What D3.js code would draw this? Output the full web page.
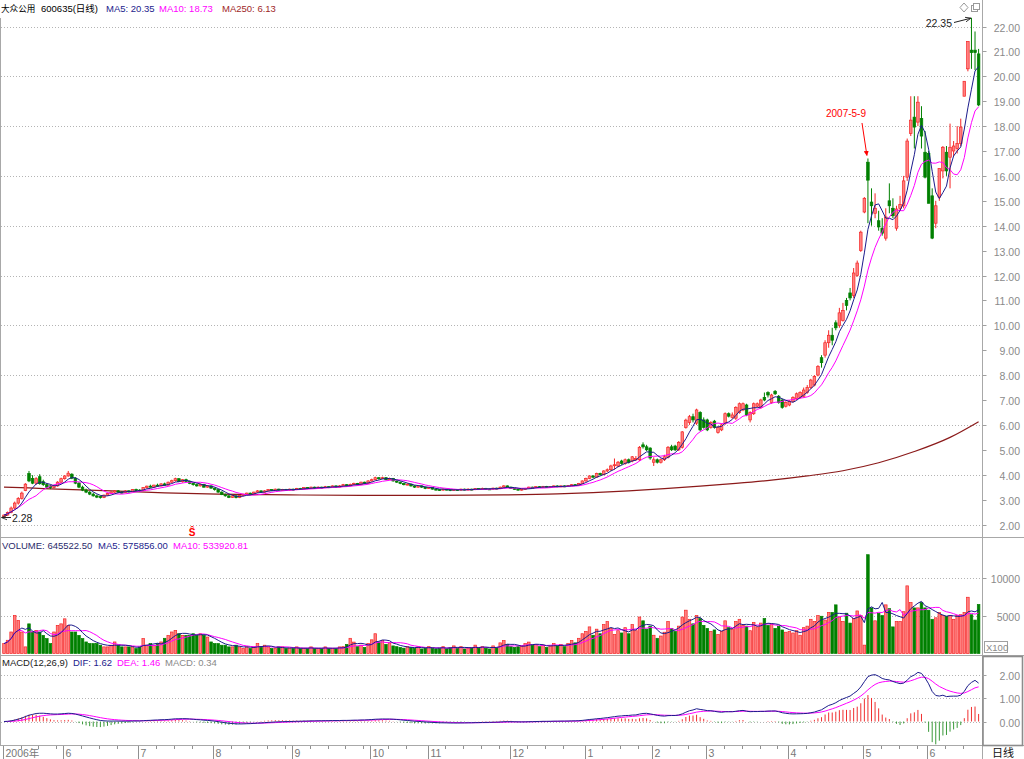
<!DOCTYPE html>
<html>
<head>
<meta charset="utf-8">
<script src="https://cdn.jsdelivr.net/npm/d3@7"></script>
<style>
  body { margin: 0; background: #fff; }
  svg { display: block; }
  text { font-family: Arial, "Liberation Sans", "Noto Sans CJK SC", sans-serif; }
</style>
</head>
<body>
<script>
// daily bars, one array per month: [open, high, low, close, volume(x100)]
const may06 = [
  [2.30,2.40,2.28,2.38,1300],[2.38,2.52,2.35,2.48,1740],[2.48,2.72,2.45,2.66,2830],[2.66,2.92,2.62,2.86,5000],
  [2.86,3.10,2.80,3.05,4350],[3.05,3.32,3.00,3.26,2830],[3.36,3.66,3.34,3.62,870],[4.05,4.15,3.70,3.75,3900],
  [3.85,3.98,3.62,3.66,2830],[3.66,3.90,3.60,3.84,3040],[3.92,4.02,3.60,3.64,2830],[3.72,3.80,3.55,3.60,2390],
  [3.60,3.66,3.45,3.50,1960],[3.55,3.60,3.42,3.48,1300],[3.48,3.60,3.45,3.55,2830],[3.55,3.74,3.52,3.70,3700],
  [3.70,3.88,3.66,3.84,3900]
];
const jun06 = [
  [3.84,3.98,3.80,3.95,4560],[3.95,4.15,3.92,4.06,3700],[4.02,4.06,3.82,3.86,2830],[3.86,3.90,3.62,3.66,2830],
  [3.66,3.70,3.46,3.50,2390],[3.50,3.56,3.34,3.38,1960],[3.38,3.44,3.26,3.30,1520],[3.30,3.34,3.18,3.22,1300],
  [3.22,3.28,3.12,3.15,1300],[3.15,3.20,3.06,3.10,1300],[3.12,3.16,3.04,3.08,1090],[3.08,3.20,3.06,3.18,870],
  [3.18,3.28,3.15,3.25,870],[3.25,3.34,3.22,3.30,1090],[3.30,3.38,3.27,3.35,1520],[3.35,3.38,3.26,3.30,1090],
  [3.30,3.33,3.24,3.28,870],[3.28,3.38,3.26,3.35,870],[3.35,3.38,3.28,3.32,870],[3.32,3.42,3.30,3.40,870],
  [3.40,3.44,3.34,3.38,650]
];
const jul06 = [
  [3.38,3.42,3.33,3.36,870],[3.36,3.50,3.35,3.48,1960],[3.48,3.56,3.44,3.54,1090],[3.54,3.60,3.48,3.50,1300],
  [3.50,3.60,3.48,3.58,1090],[3.58,3.64,3.52,3.55,1300],[3.55,3.66,3.53,3.63,1520],[3.63,3.68,3.56,3.58,2000],
  [3.58,3.72,3.56,3.70,2390],[3.70,3.80,3.66,3.76,2830],[3.76,3.88,3.72,3.84,3040],[3.84,3.86,3.70,3.72,2600],
  [3.72,3.82,3.68,3.80,2390],[3.80,3.84,3.70,3.73,2390],[3.73,3.76,3.62,3.65,2390],[3.65,3.68,3.56,3.60,2600],
  [3.60,3.64,3.52,3.55,2390],[3.55,3.64,3.53,3.61,2600],[3.61,3.63,3.48,3.50,2390],[3.50,3.58,3.48,3.55,2170],
  [3.55,3.57,3.44,3.46,1520]
];
const aug06 = [
  [3.46,3.48,3.36,3.40,1300],[3.40,3.42,3.28,3.30,1300],[3.30,3.33,3.18,3.20,1090],[3.20,3.24,3.12,3.15,1090],
  [3.15,3.18,3.06,3.09,870],[3.09,3.18,3.07,3.15,870],[3.15,3.17,3.05,3.08,1090],[3.08,3.18,3.06,3.16,870],
  [3.16,3.23,3.13,3.21,650],[3.21,3.28,3.18,3.26,870],[3.26,3.28,3.19,3.22,650],[3.22,3.32,3.20,3.30,870],
  [3.30,3.38,3.27,3.35,1300],[3.35,3.37,3.27,3.30,870],[3.30,3.38,3.28,3.35,1090],[3.35,3.42,3.33,3.40,870],
  [3.40,3.42,3.34,3.37,650],[3.37,3.44,3.35,3.42,650],[3.42,3.44,3.35,3.38,870],[3.38,3.43,3.36,3.41,870],
  [3.41,3.43,3.35,3.38,650],[3.38,3.44,3.36,3.42,650]
];
const sep06 = [
  [3.42,3.44,3.37,3.40,650],[3.40,3.47,3.38,3.45,870],[3.45,3.47,3.39,3.42,650],[3.42,3.50,3.40,3.48,650],
  [3.48,3.50,3.42,3.45,650],[3.45,3.52,3.43,3.50,870],[3.50,3.52,3.43,3.46,650],[3.46,3.53,3.44,3.50,650],
  [3.50,3.52,3.45,3.48,650],[3.48,3.55,3.46,3.52,870],[3.52,3.54,3.46,3.50,650],[3.50,3.57,3.48,3.55,650],
  [3.55,3.57,3.48,3.50,650],[3.50,3.58,3.49,3.55,870],[3.55,3.63,3.53,3.60,900],[3.60,3.62,3.52,3.55,1200],
  [3.55,3.64,3.53,3.61,2000],[3.61,3.68,3.58,3.65,1500],[3.65,3.67,3.57,3.60,900],[3.60,3.72,3.58,3.70,1100],
  [3.70,3.72,3.62,3.65,800],[3.65,3.78,3.63,3.75,1300]
];
const oct06 = [
  [3.75,3.84,3.72,3.80,1800],[3.80,3.92,3.78,3.88,2600],[3.88,3.90,3.80,3.84,1500],[3.84,3.92,3.82,3.88,1700],
  [3.88,3.90,3.78,3.80,1200],[3.80,3.88,3.78,3.85,1400],[3.85,3.87,3.72,3.75,1000],[3.75,3.77,3.67,3.70,900],
  [3.70,3.72,3.62,3.65,800],[3.65,3.67,3.57,3.60,700],[3.60,3.65,3.58,3.62,900],[3.62,3.64,3.52,3.55,800],
  [3.55,3.57,3.47,3.50,700],[3.50,3.57,3.48,3.55,900],[3.55,3.57,3.47,3.50,600],[3.50,3.52,3.42,3.45,700]
];
const nov06 = [
  [3.45,3.50,3.43,3.48,900],[3.48,3.50,3.40,3.42,700],[3.42,3.44,3.37,3.40,600],[3.40,3.42,3.35,3.38,700],
  [3.38,3.44,3.36,3.42,900],[3.42,3.44,3.37,3.40,600],[3.40,3.42,3.34,3.36,800],[3.36,3.42,3.35,3.40,1000],
  [3.40,3.42,3.35,3.38,700],[3.38,3.44,3.36,3.42,900],[3.42,3.44,3.37,3.40,600],[3.40,3.45,3.38,3.42,700],
  [3.42,3.44,3.37,3.40,800],[3.40,3.46,3.38,3.44,1100],[3.44,3.46,3.39,3.42,700],[3.42,3.48,3.40,3.45,900],
  [3.45,3.47,3.40,3.43,700],[3.43,3.45,3.39,3.42,600],[3.42,3.48,3.40,3.46,1000],[3.46,3.48,3.41,3.44,800],
  [3.44,3.52,3.42,3.50,1400],[3.50,3.58,3.48,3.55,1700],[3.55,3.57,3.48,3.50,1200]
];
const dec06 = [
  [3.50,3.52,3.43,3.45,900],[3.45,3.47,3.40,3.42,800],[3.42,3.44,3.36,3.38,900],[3.38,3.44,3.36,3.42,1000],
  [3.42,3.47,3.40,3.45,1300],[3.45,3.52,3.43,3.50,1500],[3.50,3.52,3.45,3.48,1100],[3.48,3.54,3.46,3.52,1200],
  [3.52,3.54,3.47,3.50,900],[3.50,3.55,3.48,3.53,1100],[3.53,3.55,3.48,3.50,800],[3.50,3.54,3.48,3.52,1000],
  [3.52,3.57,3.50,3.55,1300],[3.55,3.57,3.50,3.52,1000],[3.52,3.57,3.50,3.55,1200],[3.55,3.57,3.50,3.53,900],
  [3.53,3.58,3.51,3.56,1300],[3.56,3.62,3.54,3.60,1700],[3.60,3.62,3.55,3.58,1400],[3.58,3.67,3.56,3.65,2000],
  [3.65,3.77,3.63,3.75,2600]
];
const jan07 = [
  [3.75,3.88,3.72,3.85,2900],[3.85,3.97,3.82,3.95,3500],[3.95,3.98,3.86,3.90,2400],[3.90,4.08,3.88,4.05,3200],
  [4.05,4.08,3.96,4.00,2600],[4.00,4.18,3.98,4.15,3800],[4.15,4.25,4.10,4.20,4200],[4.20,4.40,4.15,4.35,3300],
  [4.40,4.65,4.20,4.40,2500],[4.35,4.55,4.30,4.50,3000],[4.55,4.60,4.40,4.45,2700],[4.45,4.65,4.40,4.60,3400],
  [4.60,4.65,4.45,4.50,2600],[4.55,4.75,4.50,4.72,3800],[4.60,4.75,4.55,4.65,3000],[4.60,5.15,4.55,5.10,4800],
  [5.20,5.30,5.05,5.12,4300],[5.12,5.20,4.95,5.00,3200],[5.07,5.10,4.60,4.67,3600]
];
const feb07 = [
  [4.50,4.70,4.35,4.60,2400],[4.60,4.65,4.45,4.50,2000],[4.50,4.65,4.45,4.60,2300],[4.60,4.80,4.55,4.72,2800],
  [4.70,5.15,4.65,5.10,4200],[5.12,5.20,4.95,5.00,3300],[5.15,5.20,4.95,5.00,2900],[5.00,5.35,4.95,5.30,3600],
  [5.10,5.75,5.05,5.72,4800],[5.90,6.25,5.85,6.19,5700],[6.10,6.40,6.00,6.33,4500],[6.33,6.45,6.10,6.20,3900],
  [6.07,6.65,6.00,6.60,5000],[6.50,6.55,5.75,5.80,4600],[6.20,6.30,5.85,5.90,3700]
];
const mar07 = [
  [6.20,6.25,5.75,5.80,3300],[5.90,6.15,5.85,6.10,2900],[6.15,6.20,5.85,5.90,3100],[5.70,5.95,5.65,5.90,2500],
  [5.80,6.05,5.75,6.00,2900],[6.07,6.50,6.00,6.45,4300],[6.45,6.50,6.30,6.35,3400],[6.30,6.50,6.25,6.40,3200],
  [6.27,6.75,6.20,6.70,4200],[6.50,6.90,6.45,6.85,4500],[6.60,6.90,6.55,6.85,3700],[6.80,6.85,6.35,6.40,3600],
  [6.20,6.55,6.10,6.50,3000],[6.45,6.90,6.40,6.85,4100],[6.75,6.90,6.70,6.85,3500],[6.70,7.05,6.65,7.00,4000],
  [7.10,7.30,6.95,7.00,4600],[7.30,7.35,7.10,7.20,3700],[6.90,7.25,6.85,7.20,3900],[7.35,7.40,7.20,7.25,3300],
  [7.15,7.20,6.85,6.90,3600],[7.00,7.05,6.65,6.70,3100],[6.75,6.95,6.70,6.90,2800]
];
const apr07 = [
  [6.80,7.00,6.75,6.95,2900],[6.95,7.15,6.90,7.10,2700],[7.05,7.30,7.00,7.25,3000],[7.10,7.35,7.05,7.30,2400],
  [7.15,7.50,7.10,7.40,3400],[7.30,7.60,7.25,7.50,3600],[7.50,7.85,7.45,7.80,4500],[7.60,8.00,7.55,7.95,4200],
  [8.00,8.40,7.95,8.35,5000],[8.70,8.80,8.30,8.50,4900],[8.80,9.40,8.70,9.30,4400],[9.30,9.80,9.10,9.60,5400],
  [9.60,9.90,9.20,9.40,5400],[10.10,10.20,9.80,9.90,6400],[10.00,10.70,9.90,10.50,4800],[10.20,10.90,10.15,10.60,4200],
  [11.00,11.10,10.60,10.80,5300],[11.30,11.50,11.00,11.10,4000],[11.20,12.30,11.10,12.10,4600],[12.00,12.60,11.95,12.50,5600],
  [13.00,13.80,12.95,13.74,5000]
];
const may07 = [
  [14.55,15.15,14.50,15.10,1100],[16.55,16.70,14.10,15.83,13000],[14.95,15.50,14.00,14.80,6000],[14.50,15.30,14.30,14.70,4300],
  [14.20,14.60,13.80,13.95,5300],[13.90,14.30,13.60,13.70,5000],[13.50,14.70,13.40,14.35,6400],[15.00,15.70,14.50,14.80,5900],
  [14.70,15.10,14.30,14.40,3500],[13.90,14.80,13.80,14.67,4200],[14.70,15.20,14.60,14.85,4200],[14.80,16.00,14.70,15.80,5500],
  [15.95,17.50,15.80,17.40,8900],[17.70,19.20,17.60,18.24,6700],[18.36,19.20,17.10,17.96,6000],[18.16,19.20,18.00,18.96,6000],
  [18.30,18.80,17.10,17.60,6700],[16.95,17.80,15.90,15.95,6000]
];
const jun07 = [
  [16.90,17.00,14.90,14.90,5700],[15.20,15.50,13.46,13.50,4500],[14.10,15.00,13.90,14.80,4700],[15.15,16.30,15.00,16.30,5400],
  [16.20,17.20,15.90,17.15,5000],[16.95,17.20,16.00,16.20,4900],[16.75,18.10,15.50,17.15,5000],[17.00,17.40,16.80,17.20,4500],
  [17.10,18.00,16.90,17.30,5000],[17.30,18.30,17.20,17.96,5100],[19.20,19.80,19.20,19.80,5400],[20.30,21.40,20.20,21.40,7400],
  [21.05,22.35,20.30,20.95,5100],[21.05,21.80,20.25,20.95,4400],[20.90,21.10,18.80,18.85,6455]
];

const months = [may06, jun06, jul06, aug06, sep06, oct06, nov06, dec06, jan07, feb07, mar07, apr07, may07, jun07];
const monthLabels = ["2006年", "6", "7", "8", "9", "10", "11", "12", "1", "2", "3", "4", "5", "6"];

// MA250 (bar index, value), history before the window is not shown
const ma250Points = [
  [0,3.50],[7,3.47],[15,3.42],[30,3.35],[45,3.27],[60,3.22],[80,3.19],[100,3.17],[120,3.17],
  [140,3.19],[155,3.23],[165,3.28],[175,3.35],[185,3.44],[195,3.54],[205,3.65],[215,3.78],
  [225,3.95],[235,4.16],[245,4.48],[255,4.93],[265,5.50],[273,6.13]
];

const priceTicks = d3.range(2, 23, 1);
const priceGrid = d3.range(2, 23, 2);
const volTicks = [5000, 10000];
const macdTicks = [0, 1, 2];

const headerParts = [
  {t: "大众公用", x: 1, c: "#000", fs: 8.6},
  {t: "600635(日线)", x: 41, c: "#000", fs: 9.5},
  {t: "MA5: 20.35", x: 106, c: "#1c1c8c", fs: 9.5},
  {t: "MA10: 18.73", x: 159, c: "#ff00ff", fs: 9.5},
  {t: "MA250: 6.13", x: 222, c: "#a02828", fs: 9.5}
];
const volParts = [
  {t: "VOLUME: 645522.50", x: 2, c: "#2a2a6a"},
  {t: "MA5: 575856.00", x: 98, c: "#1c1c8c"},
  {t: "MA10: 533920.81", x: 173, c: "#ff00ff"}
];
const macdParts = [
  {t: "MACD(12,26,9)", x: 2, c: "#222"},
  {t: "DIF: 1.62", x: 73, c: "#1c1c8c"},
  {t: "DEA: 1.46", x: 117, c: "#ff00ff"},
  {t: "MACD: 0.34", x: 165, c: "#888"}
];
const markDate = "2007-5-9";
const markIndex = 242;

// ---------- derived series ----------
const bars = [];
const monthStarts = [];
months.forEach(m => {
  monthStarts.push(bars.length);
  m.forEach(r => bars.push({o: r[0], h: r[1], l: r[2], c: r[3], v: r[4]}));
});
bars.forEach((b, i) => { b.i = i; b.up = b.c >= b.o; });
const N = bars.length;
const closes = bars.map(b => b.c);
const vols = bars.map(b => b.v);

function movingAvg(values, n) {
  return values.map((v, i) => d3.mean(values.slice(Math.max(0, i - n + 1), i + 1)));
}
function ema(values, n) {
  const k = 2 / (n + 1);
  const out = [];
  values.forEach((v, i) => out.push(i === 0 ? v : out[i - 1] + k * (v - out[i - 1])));
  return out;
}

const ma5 = movingAvg(closes, 5);
const ma10 = movingAvg(closes, 10);
const vma5 = movingAvg(vols, 5);
const vma10 = movingAvg(vols, 10);
const e12 = ema(closes, 12);
const e26 = ema(closes, 26);
const dif = e12.map((v, i) => v - e26[i]);
const dea = ema(dif, 9);
const hist = dif.map((v, i) => 2 * (v - dea[i]));

// ---------- scales ----------
const width = 1024, height = 759;
const axisX = 982.5;
const x = d3.scaleLinear().domain([0, N - 1]).range([4, 978.6]);
const yPrice = d3.scaleLinear().domain([2, 22]).range([524.5, 26.5]);
const yVol = d3.scaleLinear().domain([0, 10000]).range([653.5, 577.5]);
const yMacd = d3.scaleLinear().domain([0, 2]).range([721.5, 674.5]);
const bw = 2.6;

const RED = "#f52525", RED_FILL = "#ff8080", GREEN = "#008000";

const svg = d3.select("body").append("svg")
  .attr("width", width).attr("height", height)
  .style("background", "#fff");

const defs = svg.append("defs");
defs.append("marker").attr("id", "arrBlack").attr("viewBox", "0 0 10 10")
  .attr("refX", 9).attr("refY", 5).attr("markerWidth", 6).attr("markerHeight", 6)
  .attr("orient", "auto")
  .append("path").attr("d", "M0,1 L10,5 L0,9").attr("fill", "none").attr("stroke", "#222").attr("stroke-width", 1.4);
defs.append("marker").attr("id", "arrRed").attr("viewBox", "0 0 10 10")
  .attr("refX", 9).attr("refY", 5).attr("markerWidth", 5).attr("markerHeight", 5)
  .attr("orient", "auto")
  .append("path").attr("d", "M0,0 L10,5 L0,10 Z").attr("fill", "#f00");

// ---------- frame ----------
const frame = svg.append("g").attr("stroke", "#a8a8a8").attr("stroke-width", 1);
frame.append("line").attr("x1", axisX).attr("x2", axisX).attr("y1", 0).attr("y2", height);
frame.append("line").attr("x1", 0.5).attr("x2", 0.5).attr("y1", 18).attr("y2", 745);
[537.5, 655.5, 745.5].forEach(yy => {
  frame.append("line").attr("x1", 0).attr("x2", width).attr("y1", yy).attr("y2", yy);
});
svg.append("rect").attr("x", 983).attr("y", 656.5).attr("width", 39.5).attr("height", 89)
  .attr("fill", "none").attr("stroke", "#8c8c8c").attr("stroke-width", 1.6);

// gridlines
const grid = svg.append("g").attr("stroke", "#b4b4b4").attr("stroke-dasharray", "1,2").attr("stroke-width", 1);
priceGrid.forEach(p => grid.append("line").attr("x1", 1).attr("x2", axisX - 1)
  .attr("y1", Math.round(yPrice(p)) + 0.5).attr("y2", Math.round(yPrice(p)) + 0.5));
volTicks.forEach(v => grid.append("line").attr("x1", 1).attr("x2", axisX - 1)
  .attr("y1", Math.round(yVol(v)) + 0.5).attr("y2", Math.round(yVol(v)) + 0.5));
macdTicks.forEach(v => grid.append("line").attr("x1", 1).attr("x2", axisX - 1)
  .attr("y1", Math.round(yMacd(v)) + 0.5).attr("y2", Math.round(yMacd(v)) + 0.5));

// right axes
function rightAxis(scale, ticks, fmt) {
  const g = svg.append("g");
  ticks.forEach(t => {
    const yy = Math.round(scale(t)) + 0.5;
    g.append("line").attr("x1", axisX).attr("x2", axisX + 4).attr("y1", yy).attr("y2", yy)
      .attr("stroke", "#a0a0a0");
    g.append("text").attr("x", 1020).attr("y", yy + 4).attr("text-anchor", "end")
      .attr("font-size", 10.5).attr("fill", "#8a8a8a").text(fmt(t));
  });
}
rightAxis(yPrice, priceTicks, d3.format(".2f"));
rightAxis(yVol, volTicks, d3.format("d"));
rightAxis(yMacd, macdTicks, d3.format(".2f"));

svg.append("rect").attr("x", 984.5).attr("y", 641.5).attr("width", 23).attr("height", 11)
  .attr("fill", "#fff").attr("stroke", "#a0a0a0");
svg.append("text").attr("x", 986).attr("y", 651).attr("font-size", 9.5).attr("fill", "#8a8a8a").text("X100");

// ---------- price panel ----------
const ma250Line = d3.line().x(d => x(d[0])).y(d => yPrice(d[1])).curve(d3.curveMonotoneX);
svg.append("path").datum(ma250Points).attr("d", ma250Line)
  .attr("fill", "none").attr("stroke", "#8b1a1a").attr("stroke-width", 1.2);

const candles = svg.append("g");
candles.selectAll("line").data(bars).join("line")
  .attr("x1", d => x(d.i)).attr("x2", d => x(d.i))
  .attr("y1", d => yPrice(d.h)).attr("y2", d => yPrice(d.l))
  .attr("stroke", d => d.up ? RED : GREEN).attr("stroke-width", 1);
candles.selectAll("rect").data(bars).join("rect")
  .attr("x", d => x(d.i) - bw / 2).attr("width", bw)
  .attr("y", d => yPrice(Math.max(d.o, d.c)))
  .attr("height", d => Math.max(1, Math.abs(yPrice(d.o) - yPrice(d.c))))
  .attr("fill", d => d.up ? RED_FILL : GREEN)
  .attr("stroke", d => d.up ? RED : GREEN).attr("stroke-width", 0.7);

const lineOf = (arr, y) => d3.line().x((d, i) => x(i)).y(d => y(d))(arr);
svg.append("path").attr("d", lineOf(ma10, yPrice)).attr("fill", "none").attr("stroke", "#ff00ff").attr("stroke-width", 1);
svg.append("path").attr("d", lineOf(ma5, yPrice)).attr("fill", "none").attr("stroke", "#1c1c8c").attr("stroke-width", 1);

// header legend
const hdr = svg.append("g");
headerParts.forEach(p => hdr.append("text").attr("x", p.x).attr("y", 12).attr("font-size", p.fs)
  .attr("fill", p.c).text(p.t));

// top-right icons
svg.append("path").attr("d", "M964,3 L968,7.5 L964,12 L960,7.5 Z").attr("fill", "none").attr("stroke", "#999");
svg.append("rect").attr("x", 971.5).attr("y", 5.5).attr("width", 6).attr("height", 6).attr("fill", "#fff").attr("stroke", "#999");
svg.append("rect").attr("x", 973.5).attr("y", 3.5).attr("width", 6).attr("height", 6).attr("fill", "#fff").attr("stroke", "#999");

// high / low annotations
const hiIdx = d3.maxIndex(bars, d => d.h);
const loIdx = d3.minIndex(bars, d => d.l);
svg.append("text").attr("x", 952).attr("y", 27).attr("text-anchor", "end").attr("font-size", 10.5)
  .attr("fill", "#222").text(d3.format(".2f")(bars[hiIdx].h));
svg.append("line").attr("x1", 954).attr("y1", 22.5).attr("x2", x(hiIdx) - 1).attr("y2", yPrice(bars[hiIdx].h) + 0.5)
  .attr("stroke", "#222").attr("marker-end", "url(#arrBlack)");
svg.append("line").attr("x1", 11).attr("y1", yPrice(bars[loIdx].l)).attr("x2", x(loIdx) - 2).attr("y2", yPrice(bars[loIdx].l))
  .attr("stroke", "#222").attr("marker-end", "url(#arrBlack)");
svg.append("text").attr("x", 12).attr("y", yPrice(bars[loIdx].l) + 4).attr("font-size", 10.5)
  .attr("fill", "#222").text(d3.format(".2f")(bars[loIdx].l));

// date marker
svg.append("text").attr("x", 866).attr("y", 117).attr("text-anchor", "end").attr("font-size", 10)
  .attr("fill", "#f00").text(markDate);
svg.append("line").attr("x1", 862).attr("y1", 123).attr("x2", x(markIndex) - 1).attr("y2", yPrice(bars[markIndex].h) - 3)
  .attr("stroke", "#f00").attr("marker-end", "url(#arrRed)");

svg.append("text").attr("x", 192).attr("y", 536).attr("text-anchor", "middle").attr("font-size", 10)
  .attr("font-weight", "bold").attr("fill", "#f00").text("Ŝ");

// ---------- volume panel ----------
const vol = svg.append("g");
vol.selectAll("rect").data(bars).join("rect")
  .attr("x", d => x(d.i) - bw / 2).attr("width", bw)
  .attr("y", d => yVol(d.v)).attr("height", d => yVol(0) - yVol(d.v))
  .attr("fill", d => d.up ? RED_FILL : GREEN)
  .attr("stroke", d => d.up ? RED : GREEN).attr("stroke-width", 0.7);
svg.append("path").attr("d", lineOf(vma10, yVol)).attr("fill", "none").attr("stroke", "#ff00ff").attr("stroke-width", 1);
svg.append("path").attr("d", lineOf(vma5, yVol)).attr("fill", "none").attr("stroke", "#1c1c8c").attr("stroke-width", 1);

const vhdr = svg.append("g").attr("font-size", 9.5);
volParts.forEach(p => vhdr.append("text").attr("x", p.x).attr("y", 549).attr("fill", p.c).text(p.t));

// ---------- MACD panel ----------
const mg = svg.append("g");
mg.selectAll("line").data(hist).join("line")
  .attr("x1", (d, i) => x(i)).attr("x2", (d, i) => x(i))
  .attr("y1", yMacd(0)).attr("y2", d => yMacd(d))
  .attr("stroke", d => d >= 0 ? "#f03030" : "#3a9a3a").attr("stroke-width", 1);
svg.append("path").attr("d", lineOf(dea, yMacd)).attr("fill", "none").attr("stroke", "#ff00ff").attr("stroke-width", 1);
svg.append("path").attr("d", lineOf(dif, yMacd)).attr("fill", "none").attr("stroke", "#1c1c8c").attr("stroke-width", 1);

const mhdr = svg.append("g").attr("font-size", 9.5);
macdParts.forEach(p => mhdr.append("text").attr("x", p.x).attr("y", 666).attr("fill", p.c).text(p.t));

// ---------- time axis ----------
const tx = svg.append("g");
monthStarts.forEach((s, k) => {
  const xx = Math.round(x(s) - bw / 2) + 0.5;
  tx.append("line").attr("x1", xx).attr("x2", xx).attr("y1", 746).attr("y2", 759).attr("stroke", "#909090");
  tx.append("text").attr("x", xx + 2).attr("y", 757).attr("font-size", 10.5).attr("fill", "#777").text(monthLabels[k]);
  const end = k + 1 < monthStarts.length ? monthStarts[k + 1] : N;
  for (let j = s + 5; j < end - 1; j += 5) {
    const mx = Math.round(x(j) - bw / 2) + 0.5;
    tx.append("line").attr("x1", mx).attr("x2", mx).attr("y1", 746).attr("y2", 749).attr("stroke", "#909090");
  }
});
svg.append("text").attr("x", 992).attr("y", 757).attr("font-size", 11).attr("fill", "#111").text("日线");
</script>
</body>
</html>
